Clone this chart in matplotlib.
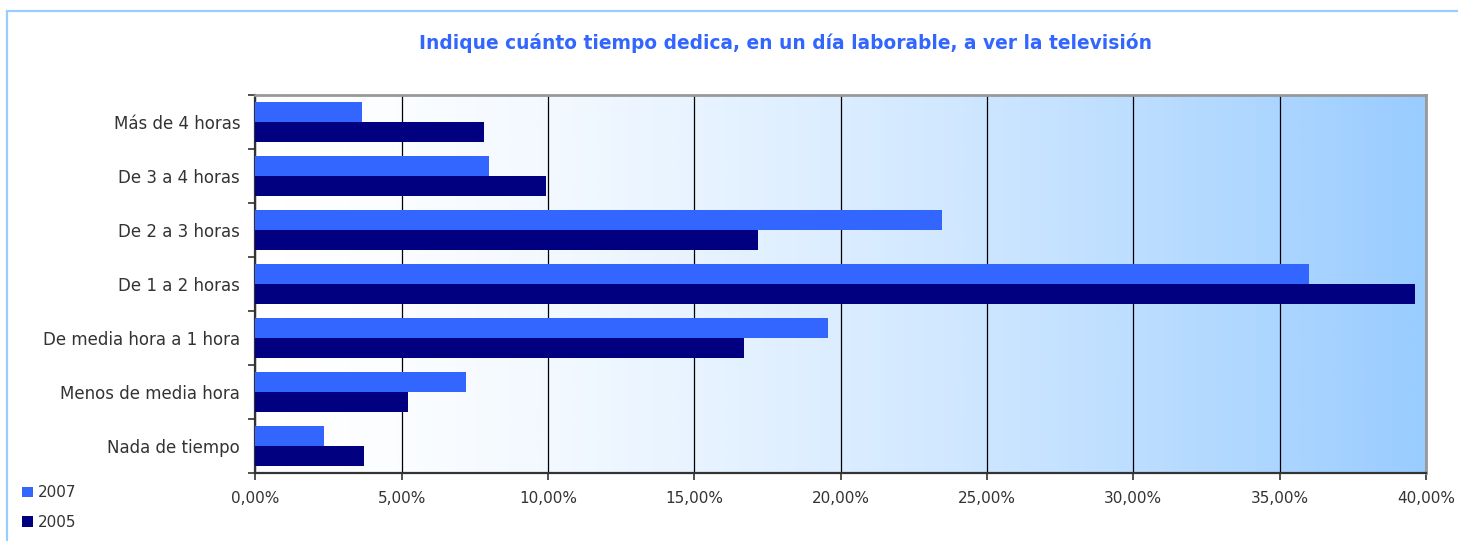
import numpy as np
import matplotlib
matplotlib.use('Agg')
import matplotlib.pyplot as plt
from matplotlib.patches import Patch, Rectangle
from matplotlib.colors import LinearSegmentedColormap
from matplotlib.ticker import FuncFormatter, MultipleLocator

# survey answers, percent of respondents
categorias = ['Más de 4 horas', 'De 3 a 4 horas', 'De 2 a 3 horas', 'De 1 a 2 horas',
              'De media hora a 1 hora', 'Menos de media hora', 'Nada de tiempo']
valores_2007 = [3.64, 7.98, 23.45, 36.0, 19.57, 7.19, 2.34]
valores_2005 = [7.81, 9.93, 17.17, 39.63, 16.70, 5.21, 3.71]

titulo = 'Indique cuánto tiempo dedica, en un día laborable, a ver la televisión'

color_2007 = '#3366FF'
color_2005 = '#000080'
texto = '#333333'

fig = plt.figure(figsize=(14.58, 5.41), dpi=100)
ax = fig.add_axes([0.1752, 0.1257, 0.978 - 0.1752, 0.8244 - 0.1257])

# pale-to-blue horizontal gradient behind the bars
fondo = LinearSegmentedColormap.from_list('fondo', ['#ffffff', '#99ccff'])
t = np.linspace(0, 1, 512) ** 1.5
ax.imshow(t[np.newaxis, :], cmap=fondo, vmin=0, vmax=1, aspect='auto',
          extent=[0, 1, 0, 1], transform=ax.transAxes, zorder=0, interpolation='bilinear')

y = np.arange(len(categorias))
h = 0.37
ax.barh(y - h / 2, valores_2007, height=h, color=color_2007, zorder=3, label='2007')
ax.barh(y + h / 2, valores_2005, height=h, color=color_2005, zorder=3, label='2005')

ax.set_xlim(0, 40)
ax.set_ylim(len(categorias) - 0.5, -0.5)
ax.xaxis.set_major_locator(MultipleLocator(5))
ax.xaxis.set_major_formatter(FuncFormatter(lambda v, p: f'{v:.2f}%'.replace('.', ',')))
ax.grid(axis='x', color='black', linewidth=0.9, zorder=1)
ax.set_axisbelow(True)

ax.set_yticks(y)
ax.set_yticklabels(categorias)
ax.set_yticks(np.arange(-0.5, len(categorias)), minor=True)
ax.tick_params(axis='y', which='major', length=0, pad=11, labelsize=12, labelcolor=texto)
ax.tick_params(axis='y', which='minor', length=5, width=1.2, color='#333333')
ax.tick_params(axis='x', length=5, width=1.2, color='#333333', pad=8, labelsize=11, labelcolor=texto)

for lado in ['top', 'right']:
    ax.spines[lado].set_color('#999999')
    ax.spines[lado].set_linewidth(2)
for lado in ['left', 'bottom']:
    ax.spines[lado].set_color('#333333')
    ax.spines[lado].set_linewidth(1.6)

fig.text(0.539, 0.92, titulo, ha='center', va='center', color=color_2007,
         fontsize=13.4, fontweight='bold')

handles = [Patch(facecolor=color_2007, label='2007'), Patch(facecolor=color_2005, label='2005')]
fig.legend(handles=handles, loc='upper left', bbox_to_anchor=(0.011, 0.114), frameon=False,
           fontsize=11, handlelength=0.7, handleheight=0.7, handletextpad=0.3,
           labelspacing=0.95, borderaxespad=0, labelcolor=texto)

# outer chart frame, open to the right and bottom edges
fig.patches.append(Rectangle((7 / 1458, -0.1), 1.2, 1 - 11 / 541 + 0.1, transform=fig.transFigure,
                             fill=False, edgecolor='#99ccff', linewidth=1.6, zorder=0))

fig.savefig('out.png', dpi=100)
